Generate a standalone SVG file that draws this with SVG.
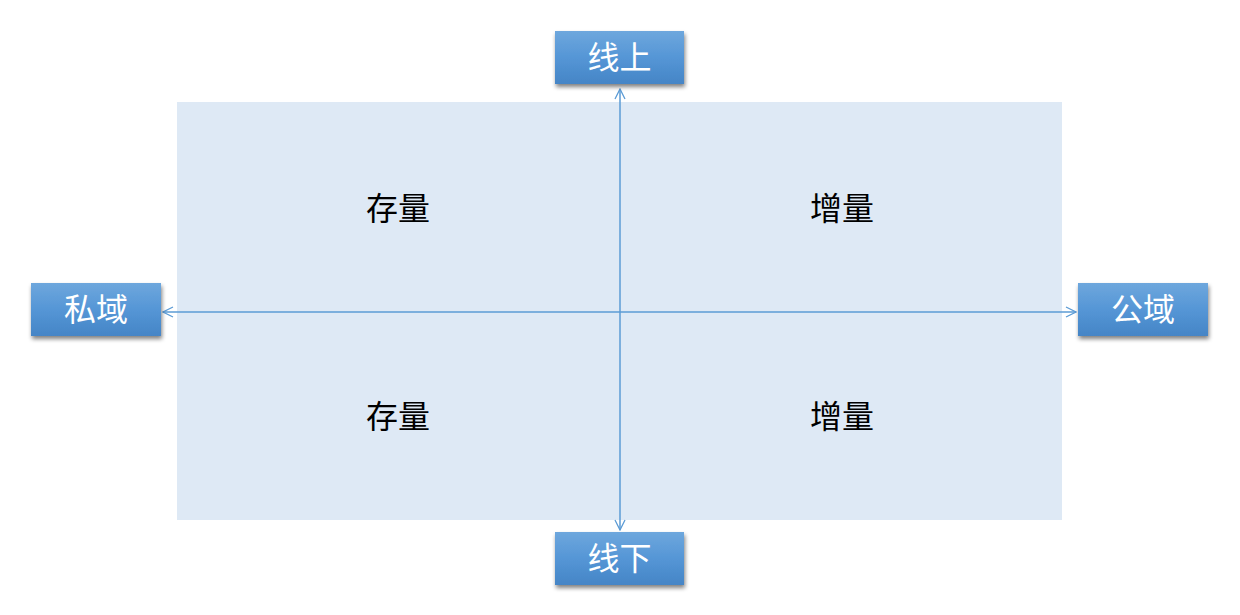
<svg xmlns="http://www.w3.org/2000/svg" width="1240" height="615" viewBox="0 0 1240 615">
<defs>
<linearGradient id="g" x1="0" y1="0" x2="0" y2="1">
<stop offset="0" stop-color="#6ea7dd"/>
<stop offset="0.5" stop-color="#5596d6"/>
<stop offset="1" stop-color="#4585c6"/>
</linearGradient>
<filter id="sh" x="-20%" y="-20%" width="140%" height="160%">
<feGaussianBlur in="SourceAlpha" stdDeviation="2"/>
<feOffset dx="1" dy="3" result="b"/>
<feComponentTransfer><feFuncA type="linear" slope="0.5"/></feComponentTransfer>
<feMerge><feMergeNode/><feMergeNode in="SourceGraphic"/></feMerge>
</filter>
<marker id="ar" viewBox="0 0 12 12" refX="11" refY="6" markerWidth="12" markerHeight="12" markerUnits="userSpaceOnUse" orient="auto-start-reverse">
<path d="M1,1 L11,6 L1,11" fill="none" stroke="#5b9bd5" stroke-width="1.3"/>
</marker>
<style>
.box{fill:url(#g);filter:url(#sh);}
.bt{font-family:"Liberation Sans","Noto Sans CJK SC",sans-serif;font-size:32px;fill:#ffffff;text-anchor:middle;}
.qt{font-family:"Liberation Sans","Noto Sans CJK SC",sans-serif;font-size:32px;fill:#000000;text-anchor:middle;}
.ln{stroke:#5b9bd5;stroke-width:1.5;fill:none;}
</style>
</defs>
<rect width="1240" height="615" fill="#ffffff"/>
<g id="quadrant">
<rect x="177" y="102" width="885" height="418" fill="#dee9f5"/>
<text class="qt" x="398" y="220">存量</text>
<text class="qt" x="842" y="220">增量</text>
<text class="qt" x="398" y="428">存量</text>
<text class="qt" x="842" y="428">增量</text>
</g>
<g id="connectors">
<line class="ln" x1="620" y1="312" x2="620" y2="89" marker-end="url(#ar)"/>
<line class="ln" x1="620" y1="312" x2="620" y2="530" marker-end="url(#ar)"/>
<line class="ln" x1="620" y1="312" x2="163" y2="312" marker-end="url(#ar)"/>
<line class="ln" x1="620" y1="312" x2="1076" y2="312" marker-end="url(#ar)"/>
</g>
<g id="node-top">
<rect class="box" x="555" y="31" width="129" height="53"/>
<text class="bt" x="619.5" y="69">线上</text>
</g>
<g id="node-bottom">
<rect class="box" x="555" y="532" width="129" height="53"/>
<text class="bt" x="619.5" y="570">线下</text>
</g>
<g id="node-left">
<rect class="box" x="31" y="283" width="130" height="53"/>
<text class="bt" x="96" y="321">私域</text>
</g>
<g id="node-right">
<rect class="box" x="1078" y="283" width="130" height="53"/>
<text class="bt" x="1143" y="321">公域</text>
</g>
</svg>
